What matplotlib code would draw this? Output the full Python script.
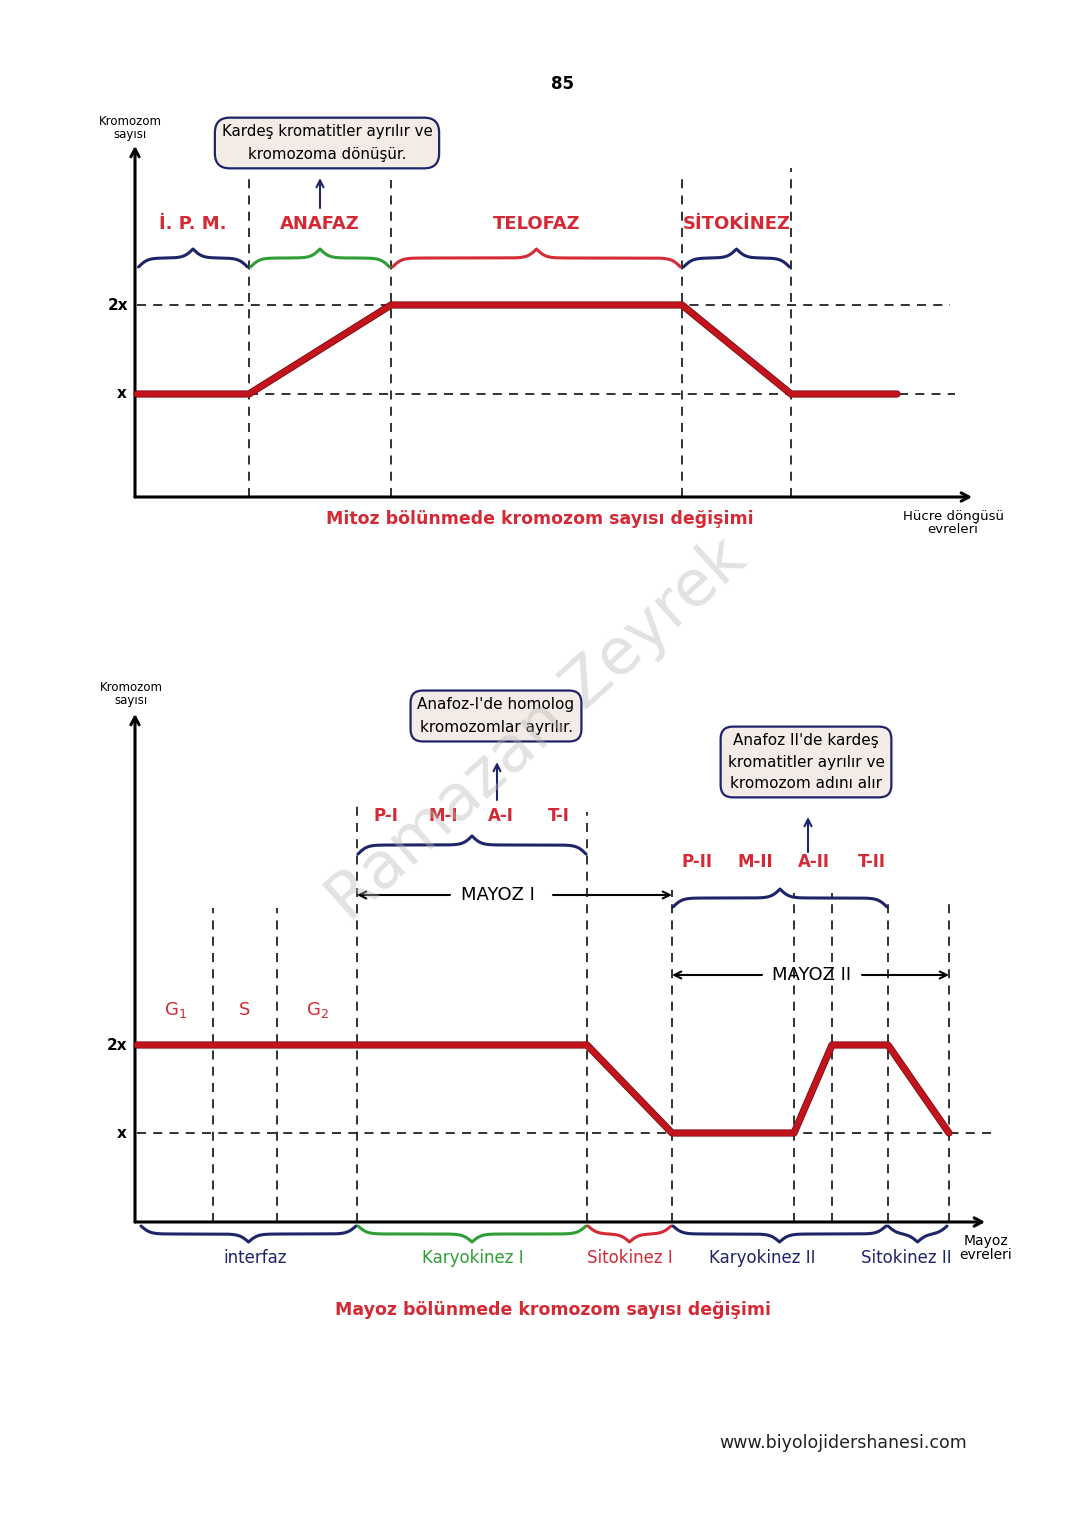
import numpy as np
import matplotlib.pyplot as plt
import matplotlib.patheffects as pe

RED = '#d42a35'
LINE_RED = '#c3141d'
NAVY = '#1e2468'
GREEN = '#2f9e34'
BOX_FILL = '#f3ebe6'
DASH = '#222222'

# mitoz data (x: time units, y: chromosome count in units of x)
mitoz_stages = ['İ. P. M.', 'ANAFAZ', 'TELOFAZ', 'SİTOKİNEZ']
mitoz_bounds = [0.02, 1.14, 2.56, 5.47, 6.56]
mitoz_colors = [NAVY, GREEN, RED, NAVY]
mitoz_x = [0.02, 1.14, 2.56, 5.47, 6.56, 7.62]
mitoz_y = [1, 1, 2, 2, 1, 1]
mitoz_note = 'Kardeş kromatitler ayrılır ve\nkromozoma dönüşür.'

# mayoz data
interfaz_stages = ['G$_1$', 'S', 'G$_2$']
interfaz_bounds = [0.02, 0.78, 1.42, 2.22]
mayoz1_stages = ['P-I', 'M-I', 'A-I', 'T-I']
mayoz1_bounds = [2.22, 4.52]
mayoz2_stages = ['P-II', 'M-II', 'A-II', 'T-II']
mayoz2_bounds = [5.37, 7.53]
mayoz_vlines = [0.78, 1.42, 2.22, 4.52, 5.37, 6.59, 6.97, 7.53, 8.14]
mayoz_x = [0.02, 4.52, 5.37, 6.59, 6.97, 7.53, 8.14]
mayoz_y = [2, 2, 1, 1, 2, 2, 1]
phase_names = ['interfaz', 'Karyokinez I', 'Sitokinez I', 'Karyokinez II', 'Sitokinez II']
phase_bounds = [0.05, 2.22, 4.52, 5.37, 7.52, 8.13]
phase_colors = [NAVY, GREEN, RED, NAVY, NAVY]
note1 = "Anafoz-I'de homolog\nkromozomlar ayrılır."
note2 = "Anafoz II'de kardeş\nkromatitler ayrılır ve\nkromozom adını alır"


# page pixel -> data helpers (layout only)
def X(px):
    return (px - 135) / 100.0

def YT(py):
    return 1 + (394 - py) / 89.0

def YB(py):
    return 1 + (1133 - py) / 88.0


def brace(ax, x0, x1, y, color, sy, h=18, down=False, lw=2.2):
    xs = np.linspace(x0, x1, 301)
    half = xs[:151]
    b = 22.0
    yh = 1 / (1 + np.exp(-b * (half - half[0]))) + 1 / (1 + np.exp(-b * (half - half[-1])))
    yy = np.concatenate([yh, yh[-2::-1]])
    off = (yy - 1) * h / sy
    if down:
        off = -off
    ax.plot(xs, y + off, color=color, lw=lw, solid_capstyle='round', solid_joinstyle='round')


def axis_arrow(ax, start, end, lw=2.2):
    ax.annotate('', xy=end, xytext=start,
                arrowprops=dict(arrowstyle='->,head_length=0.55,head_width=0.3',
                                lw=lw, color='black', shrinkA=0, shrinkB=0))


def thin_arrow(ax, start, end, color):
    ax.annotate('', xy=end, xytext=start,
                arrowprops=dict(arrowstyle='->,head_length=0.5,head_width=0.25',
                                lw=1.5, color=color, shrinkA=0, shrinkB=0))


def red_line(ax, xs, ys):
    ax.plot(xs, ys, color=LINE_RED, lw=4, solid_joinstyle='round', solid_capstyle='round', zorder=4,
            path_effects=[pe.Stroke(linewidth=5.2, foreground='#7d0c11'), pe.Normal()])


def dashed(ax, xs, ys):
    ax.plot(xs, ys, color=DASH, lw=1.3, ls=(0, (5, 4)), zorder=2)


fig = plt.figure(figsize=(10.8, 15.28), dpi=100)
H = 1528.0

# ---------------- Mitoz ----------------
ax1 = fig.add_axes([0, 1 - 600 / H, 1, 540 / H])
ax1.set_xlim(X(0), X(1080))
ax1.set_ylim(YT(600), YT(60))
ax1.axis('off')

base = YT(497)
axis_arrow(ax1, (0, base), (0, YT(146)))
axis_arrow(ax1, (0, base), (X(972), base))

dashed(ax1, [mitoz_x[0], X(950)], [2, 2])
dashed(ax1, [mitoz_bounds[1], X(955)], [1, 1])
for xb, top in zip(mitoz_bounds[1:], [177, 180, 172, 168]):
    dashed(ax1, [xb, xb], [base, YT(top)])

red_line(ax1, mitoz_x, mitoz_y)

for i, name in enumerate(mitoz_stages):
    x0, x1 = mitoz_bounds[i], mitoz_bounds[i + 1]
    brace(ax1, x0 + 0.015, x1 - 0.015, YT(258), mitoz_colors[i], 89)
    ax1.text((x0 + x1) / 2, YT(224), name, ha='center', va='center',
             fontsize=13, fontweight='bold', color=RED)

ax1.text(X(327), YT(143), mitoz_note, ha='center', va='center', fontsize=10.8,
         linespacing=1.6, zorder=5,
         bbox=dict(boxstyle='round,pad=0.45,rounding_size=1.0', fc=BOX_FILL, ec=NAVY, lw=1.6))
thin_arrow(ax1, (X(320), YT(208)), (X(320), YT(178)), NAVY)

ax1.text(X(130), YT(128), 'Kromozom\nsayısı', ha='center', va='center', fontsize=8.5, linespacing=1.0)
ax1.text(X(118), 2, '2x', ha='center', va='center', fontsize=11, fontweight='bold')
ax1.text(X(122), 1, 'x', ha='center', va='center', fontsize=11, fontweight='bold')
ax1.text(X(540), YT(519), 'Mitoz bölünmede kromozom sayısı değişimi', ha='center', va='center',
         fontsize=12.5, fontweight='bold', color=RED)
ax1.text(X(953), YT(523), 'Hücre döngüsü\nevreleri', ha='center', va='center', fontsize=9.5,
         linespacing=1.0)

# ---------------- Mayoz ----------------
ax2 = fig.add_axes([0, 1 - 1370 / H, 1, 750 / H])
ax2.set_xlim(X(0), X(1080))
ax2.set_ylim(YB(1370), YB(620))
ax2.axis('off')

base2 = YB(1222)
axis_arrow(ax2, (0, base2), (0, YB(714)))
axis_arrow(ax2, (0, base2), (X(985), base2))

dashed(ax2, [mayoz_x[0], X(995)], [1, 1])
for xb, top in zip(mayoz_vlines, [908, 908, 802, 812, 890, 893, 893, 900, 900]):
    dashed(ax2, [xb, xb], [base2, YB(top)])

red_line(ax2, mayoz_x, mayoz_y)

# interfaz sub-stages
for i, name in enumerate(interfaz_stages):
    xm = (interfaz_bounds[i] + interfaz_bounds[i + 1]) / 2
    ax2.text(xm, YB(1010), name, ha='center', va='center', fontsize=13, color=RED)

# meiosis I / II sub-stages
brace(ax2, mayoz1_bounds[0] + 0.01, mayoz1_bounds[1] - 0.01, YB(845), NAVY, 88)
for name, xm in zip(mayoz1_stages, np.linspace(X(386), X(559), 4)):
    ax2.text(xm, YB(816), name, ha='center', va='center', fontsize=12, fontweight='bold', color=RED)
brace(ax2, mayoz2_bounds[0] + 0.01, mayoz2_bounds[1] - 0.01, YB(898), NAVY, 88)
for name, xm in zip(mayoz2_stages, np.linspace(X(697), X(872), 4)):
    ax2.text(xm, YB(862), name, ha='center', va='center', fontsize=12, fontweight='bold', color=RED)

# MAYOZ I / II spans
ax2.text(X(498), YB(895), 'MAYOZ I', ha='center', va='center', fontsize=13)
thin_arrow(ax2, (X(450), YB(895)), (mayoz1_bounds[0], YB(895)), 'black')
thin_arrow(ax2, (X(553), YB(895)), (mayoz2_bounds[0], YB(895)), 'black')
ax2.text(X(812), YB(975), 'MAYOZ II', ha='center', va='center', fontsize=13)
thin_arrow(ax2, (X(762), YB(975)), (mayoz2_bounds[0], YB(975)), 'black')
thin_arrow(ax2, (X(862), YB(975)), (mayoz_vlines[-1], YB(975)), 'black')

# callouts
ax2.text(X(496), YB(716), note1, ha='center', va='center', fontsize=11, linespacing=1.6, zorder=5,
         bbox=dict(boxstyle='round,pad=0.45,rounding_size=0.8', fc=BOX_FILL, ec=NAVY, lw=1.6))
thin_arrow(ax2, (X(497), YB(800)), (X(497), YB(762)), NAVY)
ax2.text(X(806), YB(762), note2, ha='center', va='center', fontsize=11, linespacing=1.5, zorder=5,
         bbox=dict(boxstyle='round,pad=0.45,rounding_size=0.8', fc=BOX_FILL, ec=NAVY, lw=1.6))
thin_arrow(ax2, (X(808), YB(852)), (X(808), YB(817)), NAVY)

# phase braces under the axis
label_px = [255, 473, 630, 762, 906]
for i, name in enumerate(phase_names):
    x0, x1 = phase_bounds[i], phase_bounds[i + 1]
    brace(ax2, x0 + 0.01, x1 - 0.01, YB(1234), phase_colors[i], 88, h=16, down=True)
    ax2.text(X(label_px[i]), YB(1258), name, ha='center', va='center', fontsize=12,
             color=phase_colors[i])

ax2.text(X(131), YB(694), 'Kromozom\nsayısı', ha='center', va='center', fontsize=8.5, linespacing=1.0)
ax2.text(X(117), 2, '2x', ha='center', va='center', fontsize=11, fontweight='bold')
ax2.text(X(122), 1, 'x', ha='center', va='center', fontsize=11, fontweight='bold')
ax2.text(X(986), YB(1248), 'Mayoz\nevreleri', ha='center', va='center', fontsize=10, linespacing=0.95)
ax2.text(X(553), YB(1310), 'Mayoz bölünmede kromozom sayısı değişimi', ha='center', va='center',
         fontsize=12.5, fontweight='bold', color=RED)

# page decorations
fig.text(563 / 1080, 1 - 84 / H, '85', ha='center', va='center', fontsize=12, fontweight='bold')
fig.text(843 / 1080, 1 - 1443 / H, 'www.biyolojidershanesi.com', ha='center', va='center',
         fontsize=12.5, color='#222222')
fig.text(537 / 1080, 1 - 730 / H, 'Ramazan Zeyrek', rotation=42, fontsize=46, color='#b8b8b8',
         alpha=0.4, ha='center', va='center', rotation_mode='anchor', zorder=10)

fig.savefig('out.png', dpi=100, facecolor='white')
